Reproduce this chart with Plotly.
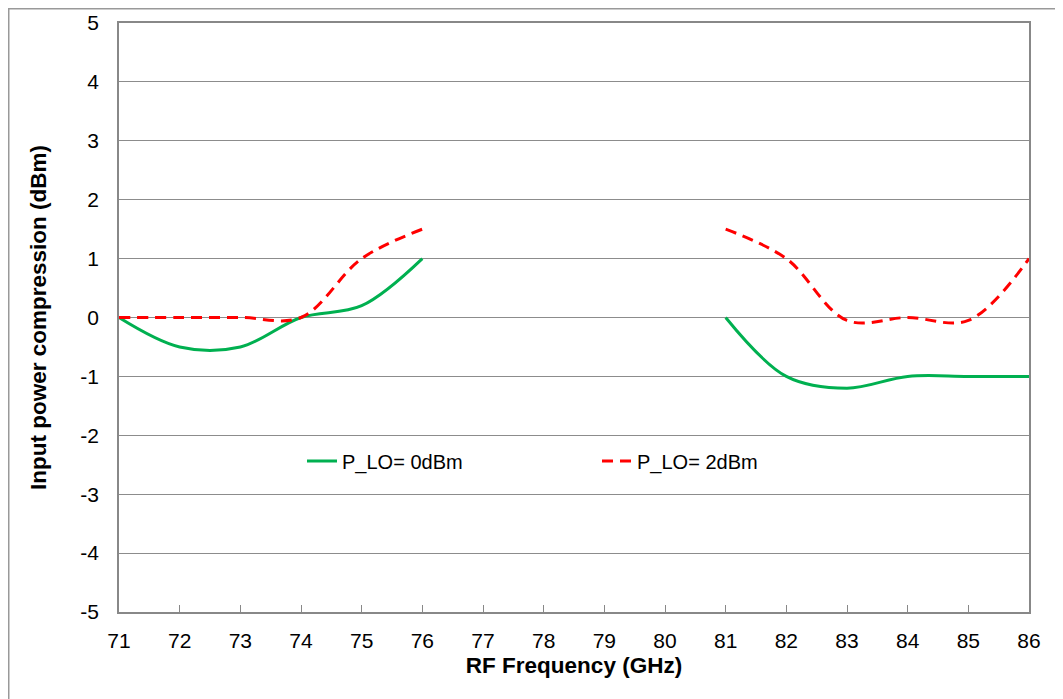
import plotly.graph_objects as go

freq = [71, 72, 73, 74, 75, 76, None, 81, 82, 83, 84, 85, 86]
p_lo_0 = [0, -0.5, -0.5, 0, 0.2, 1.0, None, 0, -1.0, -1.2, -1.0, -1.0, -1.0]
p_lo_2 = [0, 0, 0, 0, 1.0, 1.5, None, 1.5, 1.0, -0.05, 0, -0.05, 1.0]
x_ticks = list(range(71, 87))
y_ticks = list(range(-5, 6))
y_ticktext = [str(v) for v in y_ticks]

OFF = 8  # page body margin
W, H = 1063 - OFF, 699 - OFF
L, R, T, B = 119 - OFF, 1029 - OFF, 23 - OFF, 612 - OFF

FAM = "Liberation Sans, Arial, sans-serif"

fig = go.Figure()
fig.add_trace(go.Scatter(x=freq, y=p_lo_0, mode="lines", name="P_LO= 0dBm",
                         line=dict(color="#00B050", width=3, shape="spline", smoothing=1),
                         connectgaps=False))
fig.add_trace(go.Scatter(x=freq, y=p_lo_2, mode="lines", name="P_LO= 2dBm",
                         line=dict(color="#FF0000", width=3, shape="spline", smoothing=1,
                                   dash="11px,7px"),
                         connectgaps=False))

fig.update_layout(
    width=W, height=H,
    margin=dict(l=L, r=W - R, t=T, b=H - B, autoexpand=False),
    paper_bgcolor="white", plot_bgcolor="white",
    font=dict(family=FAM, size=21, color="#000000"),
    showlegend=True,
    legend=dict(orientation="h", x=(302 - OFF - L) / (R - L), y=(B - (461 - OFF)) / (B - T),
                xanchor="left", yanchor="middle", bgcolor="rgba(0,0,0,0)",
                font=dict(family=FAM, size=20), entrywidth=250, entrywidthmode="pixels"),
    xaxis=dict(range=[71, 86], tickvals=x_ticks, ticks="inside", ticklen=7,
               tickcolor="#888888", tickfont=dict(family=FAM, size=21),
               ticklabelstandoff=9,
               showline=True, linecolor="#888888", linewidth=1.5,
               mirror=True, showgrid=False, zeroline=False,
               title=dict(text="<b>RF Frequency (GHz)</b>", standoff=6,
                          font=dict(family=FAM, size=22.5))),
    yaxis=dict(range=[-5, 5], tickvals=y_ticks, ticktext=y_ticktext, ticks="",
               tickfont=dict(family=FAM, size=21), ticklabelstandoff=14,
               showline=True, linecolor="#888888", linewidth=1.5, mirror=True,
               showgrid=True, gridcolor="#8c8c8c", gridwidth=1, zeroline=False,
               title=dict(text="<b>Input power compression (dBm)</b>", standoff=27,
                          font=dict(family=FAM, size=22.5))),
)

# outer chart border (at figure edge)
fig.add_shape(type="rect", xref="paper", yref="paper",
              x0=(0.75 - L) / (R - L), x1=(1075 - OFF - L) / (R - L),
              y0=(B - (710 - OFF)) / (B - T), y1=(B - 0.75) / (B - T),
              line=dict(color="#999999", width=1.5), fillcolor="rgba(0,0,0,0)", layer="below")

fig.write_html("out.html")
